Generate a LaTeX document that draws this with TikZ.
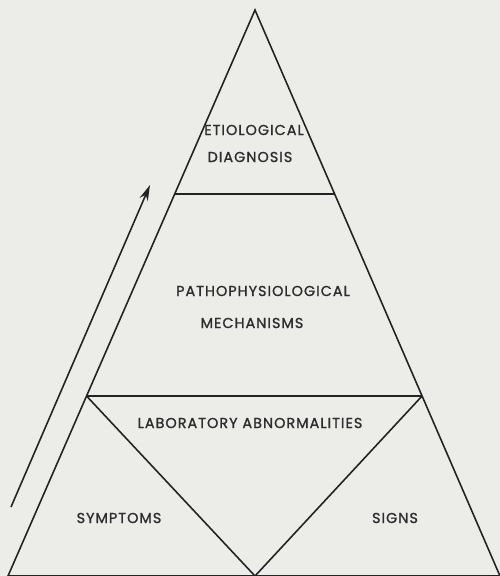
\documentclass[tikz,border=0pt]{standalone}
\usepackage{fontspec}
\setmainfont{Poppins}
\newfontfamily\tierfont[LetterSpace=7,FakeBold=1.2]{Poppins}
\usepackage{tikz}
\usetikzlibrary{calc,arrows.meta}
\definecolor{pyrInk}{RGB}{35,35,35}
\definecolor{pyrText}{RGB}{45,45,45}
\definecolor{pyrPaper}{RGB}{236,236,233}

\begin{document}
\begin{tikzpicture}[x=0.02cm,y=0.02cm,
    edge/.style={pyrInk, line width=0.9pt},
    tier/.style={text=pyrText, inner sep=0pt, font=\tierfont\fontsize{8.2}{10}\selectfont}]
    \fill[pyrPaper] (0,0) rectangle (500,576);
    \useasboundingbox (0,0) rectangle (500,576);

    % outer triangle
    \coordinate (apex) at (255,566);
    \coordinate (bl) at (8,0);
    \coordinate (br) at (500,0);
    \coordinate (bm) at (255,0);
    \draw[edge] (bl) -- (apex) -- (br) -- cycle;

    % tiers
    \coordinate (upL) at ($(bl)!0.675!(apex)$);
    \coordinate (upR) at ($(br)!0.675!(apex)$);
    \coordinate (loL) at ($(bl)!0.318!(apex)$);
    \coordinate (loR) at ($(br)!0.318!(apex)$);
    \draw[edge] (upL) -- (upR);
    \draw[edge] (loL) -- (loR);
    \draw[edge] (loL) -- (bm) -- (loR);

    % rising arrow
    \coordinate (riseA) at (11,69);
    \coordinate (riseB) at (150,391);
    \draw[edge, -{Stealth[length=9pt, width=5pt]}] (riseA) -- (riseB);

    \node[tier] (etio) at (254,446) {ETIOLOGICAL};
    \node[tier] (diag) at (250,419) {DIAGNOSIS};
    \node[tier] (patho) at (263,285) {PATHOPHYSIOLOGICAL};
    \node[tier] (mech) at (252,253) {MECHANISMS};
    \node[tier] (lab) at (250,153) {LABORATORY ABNORMALITIES};
    \node[tier] (symp) at (119,58) {SYMPTOMS};
    \node[tier] (signs) at (395,58) {SIGNS};
\end{tikzpicture}
\end{document}
